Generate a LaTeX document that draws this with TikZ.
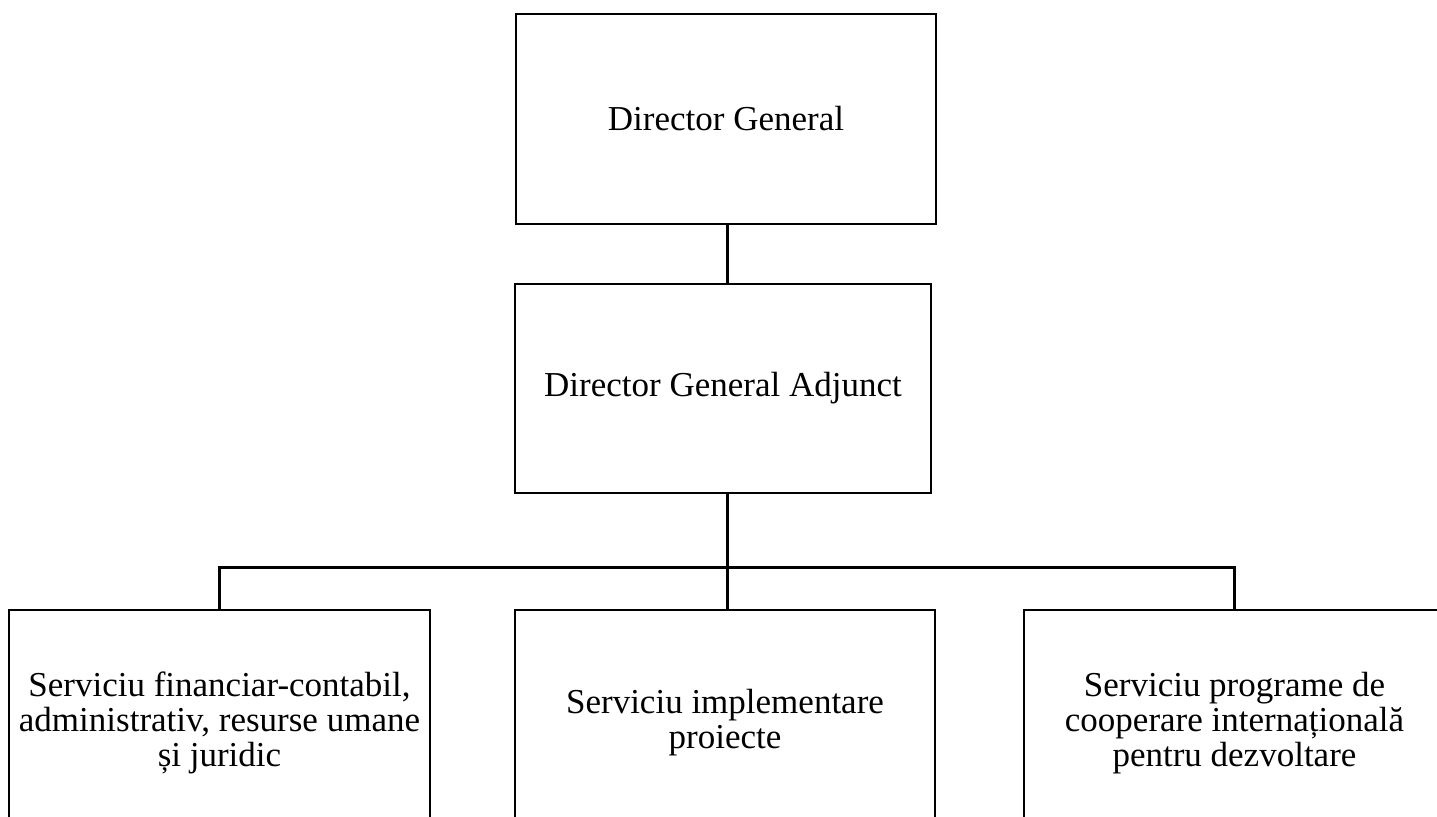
\documentclass[tikz,border=0pt]{standalone}
\usepackage{fontspec}
\setmainfont{Liberation Serif}
\usepackage{tikz}

\begin{document}
\begin{tikzpicture}[x=0.5pt, y=-0.5pt,
    box/.style={draw, line width=1pt, align=center, inner sep=0pt,
        font=\fontsize{17.5}{17.5}\selectfont},
    link/.style={line width=1.5pt}]
    \useasboundingbox (0, 0) rectangle (1437, 816);

    \node[box, minimum width=210pt, minimum height=105pt] at (726, 119) (dg) {Director General};
    \node[box, minimum width=208pt, minimum height=104.5pt] at (723, 388.5) (dga) {Director General Adjunct};
    \node[box, minimum width=210.5pt, minimum height=113pt] at (219.5, 723) (fin)
        {Serviciu financiar-contabil,\\administrativ, resurse umane\\și juridic};
    \node[box, minimum width=210pt, minimum height=113pt] at (725, 723) (impl)
        {Serviciu implementare\\proiecte};
    \node[box, minimum width=210.5pt, minimum height=113pt] at (1234.5, 723) (coop)
        {Serviciu programe de\\cooperare internațională\\pentru dezvoltare};
    \coordinate (bar) at (727, 567);

    \draw[link] (dg.south -| bar) -- (dga.north -| bar);
    \draw[link] (dga.south -| bar) -- (bar);
    \draw[link] (fin.north) |- (bar) -| (coop.north);
    \draw[link] (bar) -- (impl.north -| bar);
\end{tikzpicture}
\end{document}
